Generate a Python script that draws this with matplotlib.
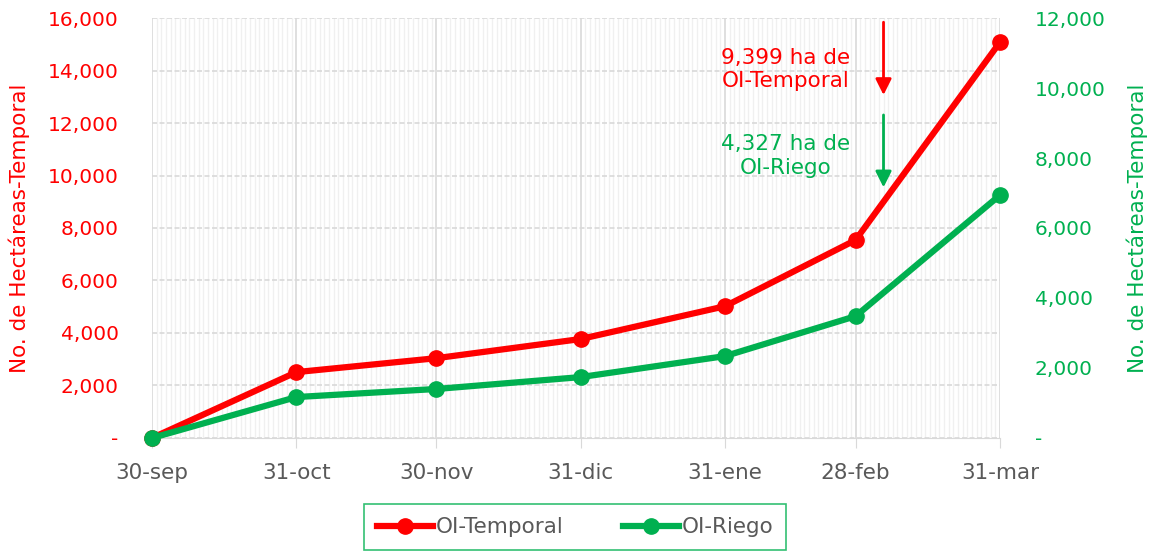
import datetime as dt
import matplotlib
matplotlib.use("Agg")
import matplotlib.pyplot as plt
import matplotlib.dates as mdates

plt.rcParams['font.family'] = ['DejaVu Sans']

# datos
fechas = [dt.date(2020, 9, 30), dt.date(2020, 10, 31), dt.date(2020, 11, 30),
          dt.date(2020, 12, 31), dt.date(2021, 1, 31), dt.date(2021, 2, 28),
          dt.date(2021, 3, 31)]
etiquetas = ["30-sep", "31-oct", "30-nov", "31-dic", "31-ene", "28-feb", "31-mar"]
temporal = [0, 2510, 3040, 3770, 5020, 7540, 15080]
riego = [0, 1170, 1400, 1740, 2340, 3480, 6940]

ROJO = "#ff0000"
VERDE = "#00b050"
GRIS = "#595959"

fig = plt.figure(figsize=(11.55, 5.54), dpi=100)
ax = fig.add_axes([0.1316, 0.2094, 0.7342, 0.7581])
ax2 = ax.twinx()

ax.set_xlim(fechas[0], fechas[-1] + dt.timedelta(days=0.4))
ax.set_ylim(0, 16000)
ax2.set_ylim(0, 12000)

# rejilla
ax.xaxis.set_minor_locator(mdates.DayLocator())
ax.set_xticks(fechas)
ax.set_xticklabels(etiquetas)
ax.grid(which="minor", axis="x", color="#f0f0f0", lw=1)
ax.grid(which="major", axis="x", color="#d9d9d9", lw=1.2)
ax.grid(which="major", axis="y", color="#d9d9d9", lw=1.2, ls=(0, (3, 1.5)))
ax.set_axisbelow(True)
ax.tick_params(axis="x", which="major", length=7, color="#d9d9d9", colors=GRIS,
               labelsize=15.5, pad=11)
ax.tick_params(axis="x", which="minor", length=0)
ax2.tick_params(axis="x", length=0)
for s in ["top", "left", "right"]:
    ax.spines[s].set_visible(False)
    ax2.spines[s].set_visible(False)
ax.spines["bottom"].set_color("#d9d9d9")
ax2.spines["bottom"].set_visible(False)

fmt = lambda v, p: "-" if v == 0 else f"{v:,.0f}"
ax.set_yticks(range(0, 16001, 2000))
ax.yaxis.set_major_formatter(plt.FuncFormatter(fmt))
ax.tick_params(axis="y", length=0, labelcolor=ROJO, labelsize=14.5, pad=24)
ax2.set_yticks(range(0, 12001, 2000))
ax2.yaxis.set_major_formatter(plt.FuncFormatter(fmt))
ax2.tick_params(axis="y", length=0, labelcolor=VERDE, labelsize=14.5, pad=25)

ax.set_ylabel("No. de Hectáreas-Temporal", color=ROJO, fontsize=15.5, labelpad=13)
ax2.set_ylabel("No. de Hectáreas-Temporal", color=VERDE, fontsize=15.5, labelpad=15)

# series (riego en eje secundario, queda encima)
l1, = ax.plot(fechas, temporal, color=ROJO, lw=4.5, marker="o", ms=11,
              label="OI-Temporal", clip_on=False)
l2, = ax2.plot(fechas, riego, color=VERDE, lw=4.5, marker="o", ms=11,
               label="OI-Riego", clip_on=False)

# anotaciones
xf = dt.date(2021, 3, 6)
xt = dt.date(2021, 2, 13)
flecha = dict(arrowstyle="-|>", lw=2, mutation_scale=24, shrinkA=0, shrinkB=0)
ax2.annotate("", xy=(xf, 9800), xytext=(xf, 11880),
             arrowprops=dict(flecha, color=ROJO))
ax2.annotate("", xy=(xf, 7160), xytext=(xf, 9230),
             arrowprops=dict(flecha, color=VERDE))
ax2.text(xt, 10540, "9,399 ha de\nOI-Temporal", color=ROJO,
         fontsize=15.5, ha="center", va="center", linespacing=1.2)
ax2.text(xt, 8060, "4,327 ha de\nOI-Riego", color=VERDE,
         fontsize=15.5, ha="center", va="center", linespacing=1.2)

leg = fig.legend([l1, l2], ["OI-Temporal", "OI-Riego"], loc="center",
                 bbox_to_anchor=(0.498, 0.048), ncol=2, fontsize=15.5,
                 frameon=True, fancybox=False, handlelength=2.6, columnspacing=2.8,
                 borderpad=0.6, handletextpad=0.1, borderaxespad=0)
leg.get_frame().set_edgecolor(VERDE)
leg.get_frame().set_linewidth(1.2)
for t in leg.get_texts():
    t.set_color(GRIS)

fig.savefig("out.png", dpi=100)
